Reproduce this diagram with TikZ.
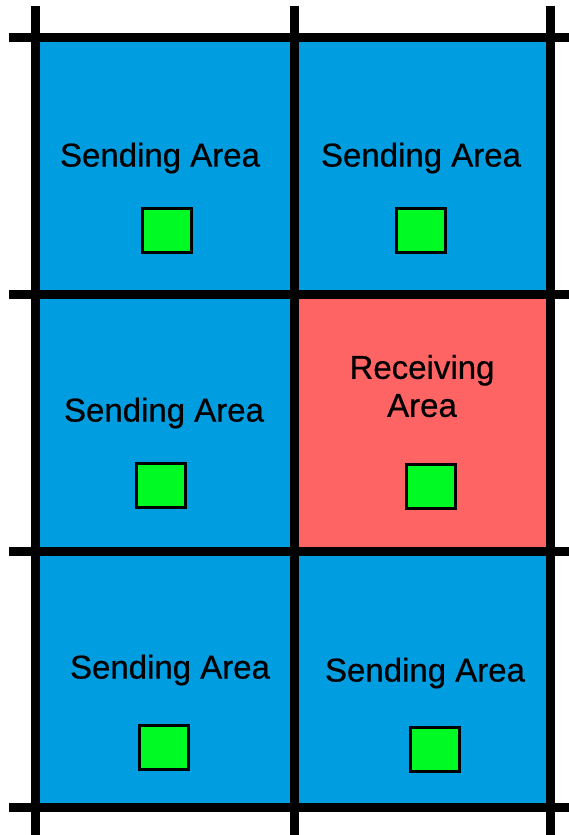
\documentclass[tikz,border=0pt]{standalone}
\usepackage{fontspec}
\setmainfont{Liberation Sans}
\newfontfamily\labelfont{Liberation Sans}[UprightFeatures={FakeBold=0.6}]
\definecolor{sendblue}{RGB}{0,157,224}
\definecolor{recvred}{RGB}{255,100,100}
\definecolor{nodegreen}{RGB}{0,250,35}
\begin{document}
\begin{tikzpicture}[x=1pt,y=-1pt,
  gridline/.style={line width=9pt,black},
  station/.style={draw=black,line width=3pt,fill=nodegreen,minimum width=49pt,minimum height=44pt,inner sep=0pt},
  arealabel/.style={font=\labelfont\fontsize{33}{38}\selectfont,align=center,inner sep=0pt}]
\useasboundingbox (0,0) rectangle (569,835);
% cell backgrounds
\fill[sendblue] (35.5,37.5) rectangle (550,807.5);
\fill[recvred] (294,294) rectangle (550,551);
% grid lines
\foreach \x in {35.5,294,550} \draw[gridline] (\x,6) -- (\x,835);
\foreach \y in {37.5,294,551,807.5} \draw[gridline] (9,\y) -- (569,\y);
% labels
\node[arealabel] (l1) at (160,158) {Sending Area};
\node[arealabel] (l2) at (421,158) {Sending Area};
\node[arealabel] (l3) at (164,413) {Sending Area};
\node[arealabel] (l4) at (422,386) {Receiving\\Area};
\node[arealabel] (l5) at (170,670) {Sending Area};
\node[arealabel] (l6) at (425,673) {Sending Area};
% stations
\node[station] (s1) at (167,230.5) {};
\node[station] (s2) at (420.5,230) {};
\node[station] (s3) at (160.5,485) {};
\node[station] (s4) at (431,486.5) {};
\node[station] (s5) at (163.5,747) {};
\node[station] (s6) at (434.5,749) {};
\end{tikzpicture}
\end{document}
